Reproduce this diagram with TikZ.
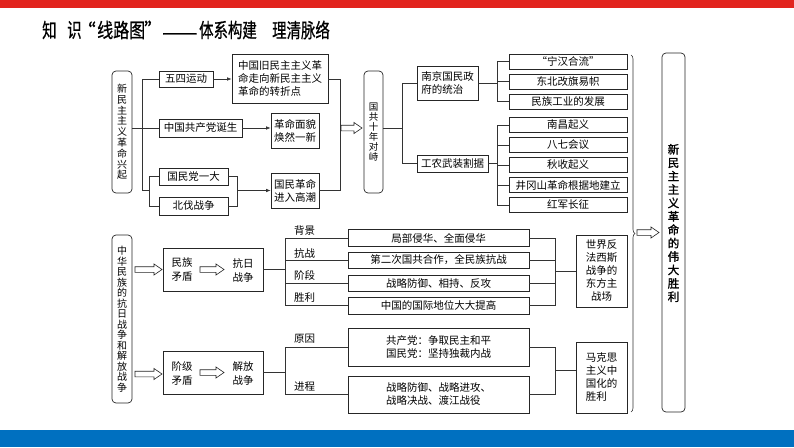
\documentclass[tikz,border=0pt]{standalone}
\usepackage{fontspec}
\setmainfont{Noto Sans CJK SC}
\newfontfamily\kbold{Noto Sans CJK SC}[FakeBold=1.5]
\newfontfamily\tbold{Noto Sans CJK SC}[FakeBold=0.8]
\usetikzlibrary{arrows.meta,calc,decorations.pathreplacing}
\definecolor{topred}{RGB}{226,36,30}
\definecolor{botblue}{RGB}{0,112,192}
\newcommand\fatarrow[2]{%
  \draw[fat] let \p1=(#1), \p2=(#2) in
    (\x1,\y1+2.8pt) -- (\x2-8pt,\y1+2.8pt) -- (\x2-8pt,\y1+5.5pt) -- (\x2,\y1)
    -- (\x2-8pt,\y1-5.5pt) -- (\x2-8pt,\y1-2.8pt) -- (\x1,\y1-2.8pt) -- cycle;}
\begin{document}
\begin{tikzpicture}[x=1pt,y=-1pt,
  box/.style={draw=black!85, line width=0.7pt, inner sep=0pt, align=center, font=\fontsize{10.5}{13}\selectfont},
  rbox/.style={box, rounded corners=4pt, font=\fontsize{10}{10.8}\selectfont},
  txt/.style={inner sep=0pt, align=center, font=\fontsize{10.5}{14}\selectfont},
  con/.style={draw=black!80, line width=0.6pt},
  arr/.style={con, -{Latex[length=4.5pt,width=3.5pt]}},
  lbl/.style={inner sep=0pt, anchor=west, font=\fontsize{10.5}{12}\selectfont},
  fat/.style={draw=black!85, line width=0.6pt, fill=white, line join=miter},
  ttl/.style={inner sep=0pt, anchor=west, font=\tbold\fontsize{20}{20}\selectfont}]
\useasboundingbox (0,0) rectangle (794,447);
\fill[white] (0,0) rectangle (794,447);
\fill[topred] (0,0) rectangle (794,7.5);
\fill[botblue] (0,430) rectangle (794,447);

% title
\node[ttl] (ti1) at (42,30) {\scalebox{0.72}[1]{知}};
\node[ttl] (ti2) at (67,30) {\scalebox{0.72}[1]{识}};
\node[ttl, anchor=east] (ti3) at (96,30) {\scalebox{0.9}[1]{“}};
\node[ttl] (ti4) at (97,30) {\scalebox{0.8}[1]{线路图}};
\node[ttl] (ti5) at (144,30) {\scalebox{0.9}[1]{”}\raisebox{-2pt}{\scalebox{1.05}[1]{——}}};
\node[ttl] (ti7) at (199,30) {\scalebox{0.72}[1]{体系构建}};
\node[ttl] (ti8) at (272,30) {\scalebox{0.72}[1]{理清脉络}};

% ---------- top part ----------
\node[rbox, minimum width=20, minimum height=122] (A) at (122,132) {新\\民\\主\\主\\义\\革\\命\\兴\\起};
\node[box, minimum width=54, minimum height=16] (B1) at (186,79) {五四运动};
\node[box, minimum width=96, minimum height=49, align=left] (B1r) at (280,78.5) {中国旧民主主义革\\命走向新民主主义\\革命的转折点};
\node[box, minimum width=83, minimum height=18] (B2) at (200.5,128) {中国共产党诞生};
\node[box, minimum width=48, minimum height=35] (B2r) at (295,130.5) {革命面貌\\焕然一新};
\node[box, minimum width=69, minimum height=17] (B3a) at (193.5,176.5) {国民党一大};
\node[box, minimum width=69, minimum height=18] (B3b) at (193.5,206) {北伐战争};
\node[box, minimum width=48, minimum height=35] (B3r) at (295,190.5) {国民革命\\进入高潮};

\coordinate (ta) at (142,79);
\coordinate (tb) at (142,190.5);
\coordinate (bl) at (149,190.5);
\coordinate (br) at (237,190.5);
\draw[con] (A.east |- B2.west) -- (B2.west);
\draw[con] (B1.west) -- (ta) -- (tb) -- (bl);
\draw[con] (B3a.west) -- (B3a.west -| bl) -- (B3b.west -| bl) -- (B3b.west);
\draw[con] (B3a.east) -- (B3a.east -| br) -- (B3b.east -| br) -- (B3b.east);
\draw[arr] (br) -- (B3r.west);
\draw[arr] (B1.east) -- (B1.east -| B1r.west);
\draw[arr] (B2.east) -- (B2.east -| B2r.west);
\coordinate (rc1) at (340,79);
\coordinate (rc2) at (340,190.5);
\draw[con] (B1r.east |- rc1) -- (rc1) -- (rc2) -- (B3r.east |- rc2);

\node[rbox, minimum width=19, minimum height=122, font=\fontsize{9.5}{10}\selectfont] (C) at (373.5,132) {国\\共\\十\\年\\对\\峙};
\coordinate (fa1s) at (341,128);
\coordinate (fa1e) at (362,128);
\fatarrow{fa1s}{fa1e}

\node[box, minimum width=61, minimum height=34, align=left] (D1) at (447.5,83) {南京国民政\\府的统治};
\node[box, minimum width=71, minimum height=17] (D2) at (452.5,163.5) {工农武装割据};
\coordinate (cj) at (402,128);
\draw[con] (C.east |- cj) -- (cj);
\draw[con] (D1.west) -| (cj);
\draw[con] (D2.west) -| (cj);

\node[box, minimum width=118, minimum height=15] (E1) at (568,61.5) {“宁汉合流”};
\node[box, minimum width=118, minimum height=15] (E2) at (568,81.5) {东北改旗易帜};
\node[box, minimum width=118, minimum height=15] (E3) at (568,101.5) {民族工业的发展};
\node[box, minimum width=118, minimum height=15] (E4) at (568,125) {南昌起义};
\node[box, minimum width=118, minimum height=15] (E5) at (568,145) {八七会议};
\node[box, minimum width=118, minimum height=15] (E6) at (568,165) {秋收起义};
\node[box, minimum width=118, minimum height=15] (E7) at (568,185) {井冈山革命根据地建立};
\node[box, minimum width=118, minimum height=15] (E8) at (568,205) {红军长征};
\coordinate (dj1) at (497,83);
\coordinate (dj2) at (497,163.5);
\draw[con] (D1.east) -- (dj1);
\draw[con] (E1.west) -| (dj1);
\draw[con] (E3.west) -| (dj1);
\draw[con] (E2.west) -- (E2.west -| dj1);
\draw[con] (D2.east) -- (dj2);
\draw[con] (E4.west) -| (dj2);
\draw[con] (E8.west) -| (dj2);
\draw[con] (E5.west) -- (E5.west -| dj2);
\draw[con] (E6.west) -- (E6.west -| dj2);
\draw[con] (E7.west) -- (E7.west -| dj2);

% ---------- bottom part ----------
\node[rbox, minimum width=20, minimum height=168, font=\fontsize{10}{10.5}\selectfont] (F) at (122,319) {中\\华\\民\\族\\的\\抗\\日\\战\\争\\和\\解\\放\\战\\争};

\node[box, minimum width=100, minimum height=43] (G1) at (213,269.5) {};
\node[txt] (g1a) at (182,270) {民族\\矛盾};
\node[txt] (g1b) at (243,270) {抗日\\战争};
\node[box, minimum width=100, minimum height=43] (G2) at (213,372.5) {};
\node[txt] (g2a) at (182,373) {阶级\\矛盾};
\node[txt] (g2b) at (243,373) {解放\\战争};

\coordinate (fb1s) at (135,269.5);
\coordinate (fb1e) at (162,269.5);
\fatarrow{fb1s}{fb1e}
\coordinate (fb2s) at (135,374);
\coordinate (fb2e) at (162,374);
\fatarrow{fb2s}{fb2e}
\coordinate (fc1s) at (200,269.5);
\coordinate (fc1e) at (224,269.5);
\fatarrow{fc1s}{fc1e}
\coordinate (fc2s) at (200,372.5);
\coordinate (fc2e) at (224,372.5);
\fatarrow{fc2s}{fc2e}

\node[box, minimum width=181, minimum height=17] (H1) at (438.5,238) {局部侵华、全面侵华};
\node[box, minimum width=181, minimum height=16] (H2) at (438.5,260) {第二次国共合作，全民族抗战};
\node[box, minimum width=181, minimum height=16] (H3) at (438.5,283) {战略防御、相持、反攻};
\node[box, minimum width=181, minimum height=17] (H4) at (438.5,305.5) {中国的国际地位大大提高};
\node[box, minimum width=181, minimum height=38] (I1) at (438.5,347) {共产党：争取民主和平\\国民党：坚持独裁内战};
\node[box, minimum width=181, minimum height=37, align=left] (I2) at (438.5,394.5) {战略防御、战略进攻、\\战略决战、渡江战役};

\coordinate (gj1) at (285,269.5);
\draw[con] (G1.east) -- (gj1);
\draw[con] (H1.west) -| (gj1);
\draw[con] (H4.west) -| (gj1);
\draw[con] (H2.west) -- (H2.west -| gj1);
\draw[con] (H3.west) -- (H3.west -| gj1);
\node[lbl] (L1) at (294,231) {背景};
\node[lbl] (L2) at (294,253) {抗战};
\node[lbl] (L3) at (294,275) {阶段};
\node[lbl] (L4) at (294,297.5) {胜利};

\coordinate (gj2) at (285,372.5);
\draw[con] (G2.east) -- (gj2);
\draw[con] (I1.west) -| (gj2);
\draw[con] (I2.west) -| (gj2);
\node[lbl] (L5) at (294,339) {原因};
\node[lbl] (L6) at (294,387) {进程};

\node[box, minimum width=51, minimum height=72] (J1) at (601.5,271) {世界反\\法西斯\\战争的\\东方主\\战场};
\node[box, minimum width=51, minimum height=71, align=left] (J2) at (601.5,377.5) {马克思\\主义中\\国化的\\胜利};

\coordinate (hj) at (555,271);
\draw[con] (H1.east) -| (hj);
\draw[con] (H4.east) -| (hj);
\draw[con] (H2.east) -- (H2.east -| hj);
\draw[con] (H3.east) -- (H3.east -| hj);
\draw[con] (hj) -- (J1.west);
\coordinate (ij) at (555,370);
\draw[con] (I1.east) -| (ij);
\draw[con] (I2.east) -| (ij);
\draw[con] (ij) -- (ij -| J2.west);

% ---------- right part ----------
\coordinate (bra) at (631,55);
\coordinate (brb) at (631,412);
\draw[con, decorate, decoration={brace, amplitude=4pt}] (bra) -- (brb);
\node[rbox, minimum width=23, minimum height=359] (K) at (673.5,232.5) {};
\node[inner sep=0pt, align=center, font=\kbold\fontsize{11.5}{13.4}\selectfont] (Kt) at (673.5,223) {新\\民\\主\\主\\义\\革\\命\\的\\伟\\大\\胜\\利};
\coordinate (fks) at (637,232.5);
\coordinate (fke) at (659,232.5);
\fatarrow{fks}{fke}
\end{tikzpicture}
\end{document}
